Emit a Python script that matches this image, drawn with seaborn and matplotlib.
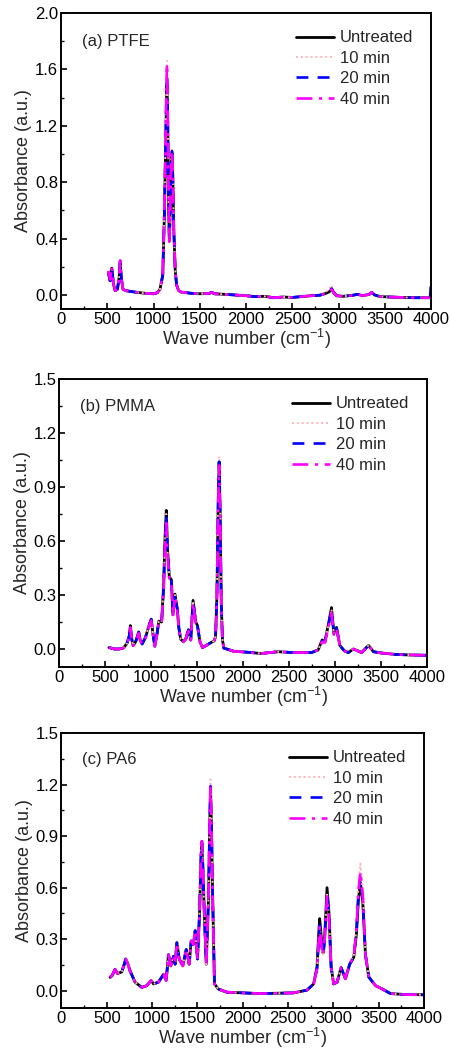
import numpy as np
import pandas as pd
import matplotlib
matplotlib.use("Agg")
import matplotlib.pyplot as plt
from matplotlib.ticker import MultipleLocator, FormatStrFormatter
import seaborn as sns

# ---------------- data ----------------
series_labels = ["Untreated", "10 min", "20 min", "40 min"]
panel_titles = ["(a) PTFE", "(b) PMMA", "(c) PA6"]
x_ticks = [0, 500, 1000, 1500, 2000, 2500, 3000, 3500, 4000]

# (a) PTFE
wn_a = [513, 531, 549, 567, 585, 610, 628, 640, 652, 670,
        700, 800, 900, 1000, 1040, 1070, 1100, 1117, 1130, 1140,
        1146, 1153, 1162, 1171, 1182, 1193, 1200, 1208, 1220, 1235,
        1250, 1272, 1300, 1400, 1500, 1600, 1630, 1660, 1800, 2000,
        2100, 2200, 2300, 2400, 2500, 2600, 2700, 2800, 2860, 2900,
        2927, 2945, 2980, 3050, 3150, 3205, 3260, 3330, 3360, 3390,
        3450, 3600, 3800, 3990, 4000]
a_untreated = [0.16, 0.10, 0.19, 0.08, 0.03, 0.04, 0.12, 0.235, 0.12, 0.04,
               0.03, 0.02, 0.012, 0.008, 0.015, 0.04, 0.14, 0.55, 1.00, 1.38,
               1.49, 1.28, 0.70, 0.38, 0.62, 0.96, 1.01, 0.85, 0.45, 0.17,
               0.07, 0.03, 0.02, 0.012, 0.008, 0.01, 0.018, 0.008, 0.003, -0.006,
               -0.012, -0.01, -0.02, -0.015, -0.018, -0.012, -0.006, -0.002, 0.01, 0.022,
               0.04, 0.018, -0.006, -0.01, -0.003, 0.004, -0.005, 0.003, 0.018, 0.0,
               -0.012, -0.016, -0.02, -0.02, -0.02]
a_10min = [0.16, 0.10, 0.19, 0.08, 0.03, 0.04, 0.12, 0.235, 0.12, 0.04,
           0.03, 0.02, 0.012, 0.008, 0.015, 0.04, 0.14, 0.58, 1.08, 1.50,
           1.66, 1.38, 0.72, 0.38, 0.63, 0.98, 1.03, 0.86, 0.45, 0.17,
           0.07, 0.03, 0.02, 0.012, 0.008, 0.01, 0.018, 0.008, 0.003, -0.006,
           -0.012, -0.01, -0.02, -0.015, -0.018, -0.012, -0.006, -0.002, 0.02, 0.045,
           0.07, 0.025, -0.006, -0.01, -0.003, 0.004, -0.005, 0.003, 0.018, 0.0,
           -0.012, -0.016, -0.02, -0.02, -0.02]
a_20min = [0.15, 0.10, 0.19, 0.08, 0.03, 0.04, 0.12, 0.24, 0.12, 0.04,
           0.03, 0.02, 0.012, 0.008, 0.015, 0.04, 0.14, 0.56, 1.04, 1.42,
           1.56, 1.32, 0.71, 0.38, 0.62, 0.97, 1.02, 0.85, 0.45, 0.17,
           0.07, 0.03, 0.02, 0.012, 0.008, 0.01, 0.018, 0.008, 0.003, -0.006,
           -0.012, -0.01, -0.02, -0.015, -0.018, -0.012, -0.006, -0.002, 0.012, 0.026,
           0.045, 0.02, -0.006, -0.01, -0.003, 0.004, -0.005, 0.003, 0.018, 0.0,
           -0.012, -0.016, -0.02, -0.02, 0.09]
a_40min = [0.17, 0.11, 0.20, 0.08, 0.03, 0.04, 0.12, 0.245, 0.12, 0.04,
           0.03, 0.02, 0.012, 0.008, 0.015, 0.04, 0.14, 0.58, 1.07, 1.48,
           1.64, 1.36, 0.72, 0.38, 0.63, 0.98, 1.02, 0.86, 0.45, 0.17,
           0.07, 0.03, 0.02, 0.012, 0.008, 0.01, 0.018, 0.008, 0.003, -0.006,
           -0.012, -0.01, -0.02, -0.015, -0.018, -0.012, -0.006, -0.002, 0.01, 0.022,
           0.038, 0.018, -0.006, -0.01, -0.003, 0.004, -0.005, 0.003, 0.018, 0.0,
           -0.012, -0.016, -0.02, -0.02, -0.02]

# (b) PMMA
wn_b = [540, 600, 650, 697, 735, 760, 773, 786, 803, 830,
        850, 864, 880, 901, 938, 975, 1000, 1020, 1039, 1065,
        1083, 1113, 1135, 1150, 1164, 1178, 1197, 1219, 1236, 1258,
        1284, 1300, 1320, 1350, 1375, 1405, 1430, 1455, 1485, 1503,
        1530, 1558, 1600, 1630, 1685, 1700, 1715, 1728, 1739, 1750,
        1762, 1775, 1790, 1900, 2050, 2196, 2380, 2550, 2743, 2816,
        2860, 2889, 2925, 2961, 2987, 3016, 3052, 3100, 3144, 3199,
        3290, 3363, 3418, 3500, 3654, 3800, 4000]
b_untreated = [0.008, 0.0, 0.0, 0.005, 0.03, 0.07, 0.13, 0.06, 0.018, 0.04,
               0.07, 0.095, 0.05, 0.028, 0.065, 0.13, 0.166, 0.08, 0.015, 0.09,
               0.155, 0.15, 0.35, 0.62, 0.77, 0.55, 0.40, 0.385, 0.19, 0.305,
               0.22, 0.12, 0.055, 0.04, 0.055, 0.107, 0.05, 0.27, 0.15, 0.13,
               0.04, 0.008, 0.02, 0.03, 0.045, 0.07, 0.30, 0.80, 1.04, 0.75,
               0.25, 0.05, 0.005, -0.013, -0.018, -0.025, -0.015, -0.02, -0.02, -0.005,
               0.05, 0.04, 0.13, 0.23, 0.085, 0.12, 0.02, -0.01, -0.02, 0.0,
               -0.02, 0.02, -0.015, -0.022, -0.03, -0.033, -0.035]
b_10min = [0.008, 0.0, 0.0, 0.005, 0.03, 0.07, 0.125, 0.06, 0.018, 0.04,
           0.07, 0.092, 0.05, 0.028, 0.065, 0.13, 0.163, 0.08, 0.015, 0.09,
           0.152, 0.148, 0.34, 0.60, 0.75, 0.54, 0.40, 0.38, 0.19, 0.30,
           0.22, 0.12, 0.055, 0.04, 0.055, 0.105, 0.05, 0.265, 0.15, 0.13,
           0.04, 0.008, 0.02, 0.03, 0.045, 0.07, 0.31, 0.83, 1.07, 0.77,
           0.25, 0.05, 0.005, -0.013, -0.018, -0.025, -0.015, -0.02, -0.02, -0.005,
           0.045, 0.04, 0.125, 0.22, 0.085, 0.115, 0.02, -0.01, -0.02, 0.0,
           -0.02, 0.02, -0.015, -0.022, -0.03, -0.033, -0.035]
b_20min = [0.008, 0.0, 0.0, 0.005, 0.03, 0.07, 0.128, 0.06, 0.018, 0.04,
           0.07, 0.093, 0.05, 0.028, 0.065, 0.13, 0.164, 0.08, 0.015, 0.09,
           0.153, 0.148, 0.34, 0.60, 0.74, 0.54, 0.40, 0.38, 0.19, 0.30,
           0.22, 0.12, 0.055, 0.04, 0.055, 0.105, 0.05, 0.265, 0.15, 0.13,
           0.04, 0.008, 0.02, 0.03, 0.045, 0.07, 0.30, 0.80, 1.04, 0.75,
           0.25, 0.05, 0.005, -0.013, -0.018, -0.025, -0.015, -0.02, -0.02, -0.005,
           0.045, 0.04, 0.125, 0.215, 0.085, 0.115, 0.02, -0.01, -0.02, 0.0,
           -0.02, 0.02, -0.015, -0.022, -0.03, -0.033, -0.035]
b_40min = [0.008, 0.0, 0.0, 0.005, 0.03, 0.065, 0.12, 0.06, 0.018, 0.04,
           0.065, 0.088, 0.05, 0.028, 0.06, 0.125, 0.158, 0.08, 0.015, 0.088,
           0.148, 0.145, 0.33, 0.57, 0.70, 0.52, 0.39, 0.37, 0.18, 0.29,
           0.21, 0.12, 0.055, 0.04, 0.055, 0.10, 0.05, 0.255, 0.145, 0.125,
           0.04, 0.008, 0.02, 0.03, 0.045, 0.07, 0.30, 0.79, 1.02, 0.74,
           0.25, 0.05, 0.005, -0.013, -0.018, -0.025, -0.015, -0.02, -0.02, -0.005,
           0.04, 0.035, 0.115, 0.20, 0.08, 0.11, 0.02, -0.01, -0.02, 0.0,
           -0.02, 0.02, -0.015, -0.022, -0.03, -0.033, -0.035]

# (c) PA6
wn_c = [536, 560, 591, 617, 665, 690, 709, 730, 757, 812,
        886, 941, 989, 1015, 1070, 1125, 1155, 1180, 1206, 1236,
        1254, 1273, 1299, 1339, 1376, 1409, 1431, 1455, 1475, 1501,
        1523, 1540, 1549, 1560, 1574, 1597, 1622, 1635, 1644, 1655,
        1669, 1688, 1732, 1825, 2000, 2193, 2400, 2561, 2709, 2782,
        2820, 2838, 2849, 2862, 2875, 2887, 2900, 2912, 2930, 2952,
        2975, 3003, 3041, 3085, 3133, 3180, 3225, 3254, 3276, 3298,
        3324, 3354, 3391, 3465, 3520, 3630, 3800, 4000]
c_untreated = [0.078, 0.09, 0.125, 0.10, 0.11, 0.15, 0.185, 0.16, 0.115, 0.05,
               0.02, 0.03, 0.06, 0.04, 0.05, 0.095, 0.06, 0.21, 0.145, 0.20,
               0.155, 0.28, 0.185, 0.145, 0.24, 0.155, 0.29, 0.27, 0.35, 0.185,
               0.45, 0.78, 0.86, 0.72, 0.48, 0.155, 0.53, 0.95, 1.18, 0.95,
               0.52, 0.04, 0.01, -0.008, -0.012, -0.016, -0.014, -0.012, 0.004, 0.04,
               0.14, 0.33, 0.42, 0.34, 0.26, 0.22, 0.28, 0.40, 0.60, 0.45,
               0.14, 0.04, 0.05, 0.135, 0.07, 0.155, 0.195, 0.33, 0.53, 0.63,
               0.52, 0.21, 0.08, 0.03, 0.016, -0.016, -0.022, -0.023]
c_10min = [0.078, 0.09, 0.125, 0.10, 0.11, 0.15, 0.185, 0.16, 0.115, 0.05,
           0.02, 0.03, 0.06, 0.04, 0.05, 0.095, 0.06, 0.21, 0.145, 0.20,
           0.155, 0.28, 0.185, 0.145, 0.24, 0.155, 0.29, 0.27, 0.35, 0.185,
           0.46, 0.80, 0.88, 0.73, 0.48, 0.155, 0.55, 0.99, 1.23, 0.98,
           0.53, 0.04, 0.01, -0.008, -0.012, -0.016, -0.014, -0.012, 0.004, 0.04,
           0.13, 0.30, 0.38, 0.31, 0.24, 0.21, 0.27, 0.38, 0.57, 0.43,
           0.14, 0.04, 0.05, 0.135, 0.07, 0.16, 0.20, 0.36, 0.62, 0.74,
           0.58, 0.22, 0.08, 0.03, 0.016, -0.016, -0.022, -0.023]
c_20min = [0.078, 0.09, 0.125, 0.10, 0.11, 0.15, 0.185, 0.16, 0.115, 0.05,
           0.02, 0.03, 0.06, 0.04, 0.05, 0.095, 0.06, 0.21, 0.145, 0.20,
           0.155, 0.28, 0.185, 0.145, 0.24, 0.155, 0.29, 0.27, 0.35, 0.185,
           0.45, 0.79, 0.87, 0.72, 0.48, 0.155, 0.54, 0.96, 1.19, 0.96,
           0.52, 0.04, 0.01, -0.008, -0.012, -0.016, -0.014, -0.012, 0.004, 0.04,
           0.13, 0.30, 0.38, 0.31, 0.24, 0.21, 0.27, 0.38, 0.57, 0.43,
           0.14, 0.04, 0.05, 0.135, 0.07, 0.155, 0.195, 0.34, 0.56, 0.66,
           0.54, 0.21, 0.08, 0.03, 0.016, -0.016, -0.022, -0.023]
c_40min = [0.078, 0.09, 0.125, 0.10, 0.11, 0.15, 0.185, 0.16, 0.115, 0.05,
           0.02, 0.03, 0.06, 0.04, 0.05, 0.095, 0.06, 0.21, 0.145, 0.20,
           0.155, 0.28, 0.185, 0.145, 0.24, 0.155, 0.29, 0.27, 0.35, 0.185,
           0.45, 0.79, 0.87, 0.72, 0.48, 0.155, 0.54, 0.97, 1.20, 0.96,
           0.52, 0.04, 0.01, -0.008, -0.012, -0.016, -0.014, -0.012, 0.004, 0.04,
           0.13, 0.29, 0.37, 0.30, 0.24, 0.21, 0.26, 0.37, 0.55, 0.42,
           0.14, 0.04, 0.05, 0.135, 0.07, 0.158, 0.20, 0.35, 0.58, 0.69,
           0.56, 0.21, 0.08, 0.03, 0.016, -0.016, -0.022, -0.023]

panels = [
    (wn_a, [a_untreated, a_10min, a_20min, a_40min]),
    (wn_b, [b_untreated, b_10min, b_20min, b_40min]),
    (wn_c, [c_untreated, c_10min, c_20min, c_40min]),
]

# ---------------- style ----------------
sns.set_style("ticks")
plt.rcParams["font.family"] = ["Liberation Sans", "DejaVu Sans"]
plt.rcParams["mathtext.fontset"] = "custom"
plt.rcParams["mathtext.rm"] = "Liberation Sans"
plt.rcParams["mathtext.it"] = "Liberation Sans:italic"
plt.rcParams["mathtext.bf"] = "Liberation Sans:bold"

colors = ["black", "#ffb3c1", "#0000ff", "#ff00ff"]
styles = ["-", (0, (1, 1.5)), (0, (4.5, 3.5)), (0, (6, 2.5, 1.2, 2.5))]
widths = [2.0, 1.4, 1.9, 1.9]

FS = 12
fig = plt.figure(figsize=(4.51, 10.48), dpi=100)
W, H = 451.0, 1048.0
boxes = [(61, 13, 431, 309), (59.3, 379, 427, 667), (61.5, 733, 424, 1008)]
ylims = [(-0.1, 2.0), (-0.1, 1.5), (-0.1, 1.5)]
ymajor = [0.4, 0.3, 0.3]

for i, ((wn, ys), (l, t, r, b)) in enumerate(zip(panels, boxes)):
    ax = fig.add_axes([l / W, 1 - b / H, (r - l) / W, (b - t) / H])
    for lab, y, c, ls, lw in zip(series_labels, ys, colors, styles, widths):
        df = pd.DataFrame({"wn": wn, "abs": y})
        sns.lineplot(data=df, x="wn", y="abs", ax=ax, color=c, linestyle=ls,
                     linewidth=lw, label=lab, sort=False, estimator=None)
    ax.set_xlim(0, 4000)
    ax.set_ylim(*ylims[i])
    ax.set_xticks(x_ticks)
    ax.xaxis.set_minor_locator(MultipleLocator(250))
    ax.yaxis.set_major_locator(MultipleLocator(ymajor[i]))
    ax.yaxis.set_minor_locator(MultipleLocator(ymajor[i] / 2))
    ax.yaxis.set_major_formatter(FormatStrFormatter("%.1f"))
    ax.tick_params(which="both", direction="in", top=False, right=False,
                   labelsize=FS, colors="black", pad=2)
    ax.tick_params(which="major", length=4.5, width=1.2)
    ax.tick_params(which="minor", length=2.5, width=1.0)
    for sp in ax.spines.values():
        sp.set_visible(True)
        sp.set_linewidth(1.4)
        sp.set_color("black")
    ax.set_xlabel("Wave number (cm$^{-1}$)", fontsize=FS + 1, labelpad=0)
    ax.set_ylabel("Absorbance (a.u.)", fontsize=FS + 1, labelpad=2)
    ax.text(0.057, 0.905, panel_titles[i], transform=ax.transAxes,
            fontsize=FS, va="center", ha="left")
    ax.legend(loc="upper right", frameon=False, fontsize=FS, handlelength=2.3,
              handletextpad=0.35, labelspacing=0.32, borderaxespad=0.75,
              borderpad=0.3)

fig.savefig("out.png", dpi=100)
